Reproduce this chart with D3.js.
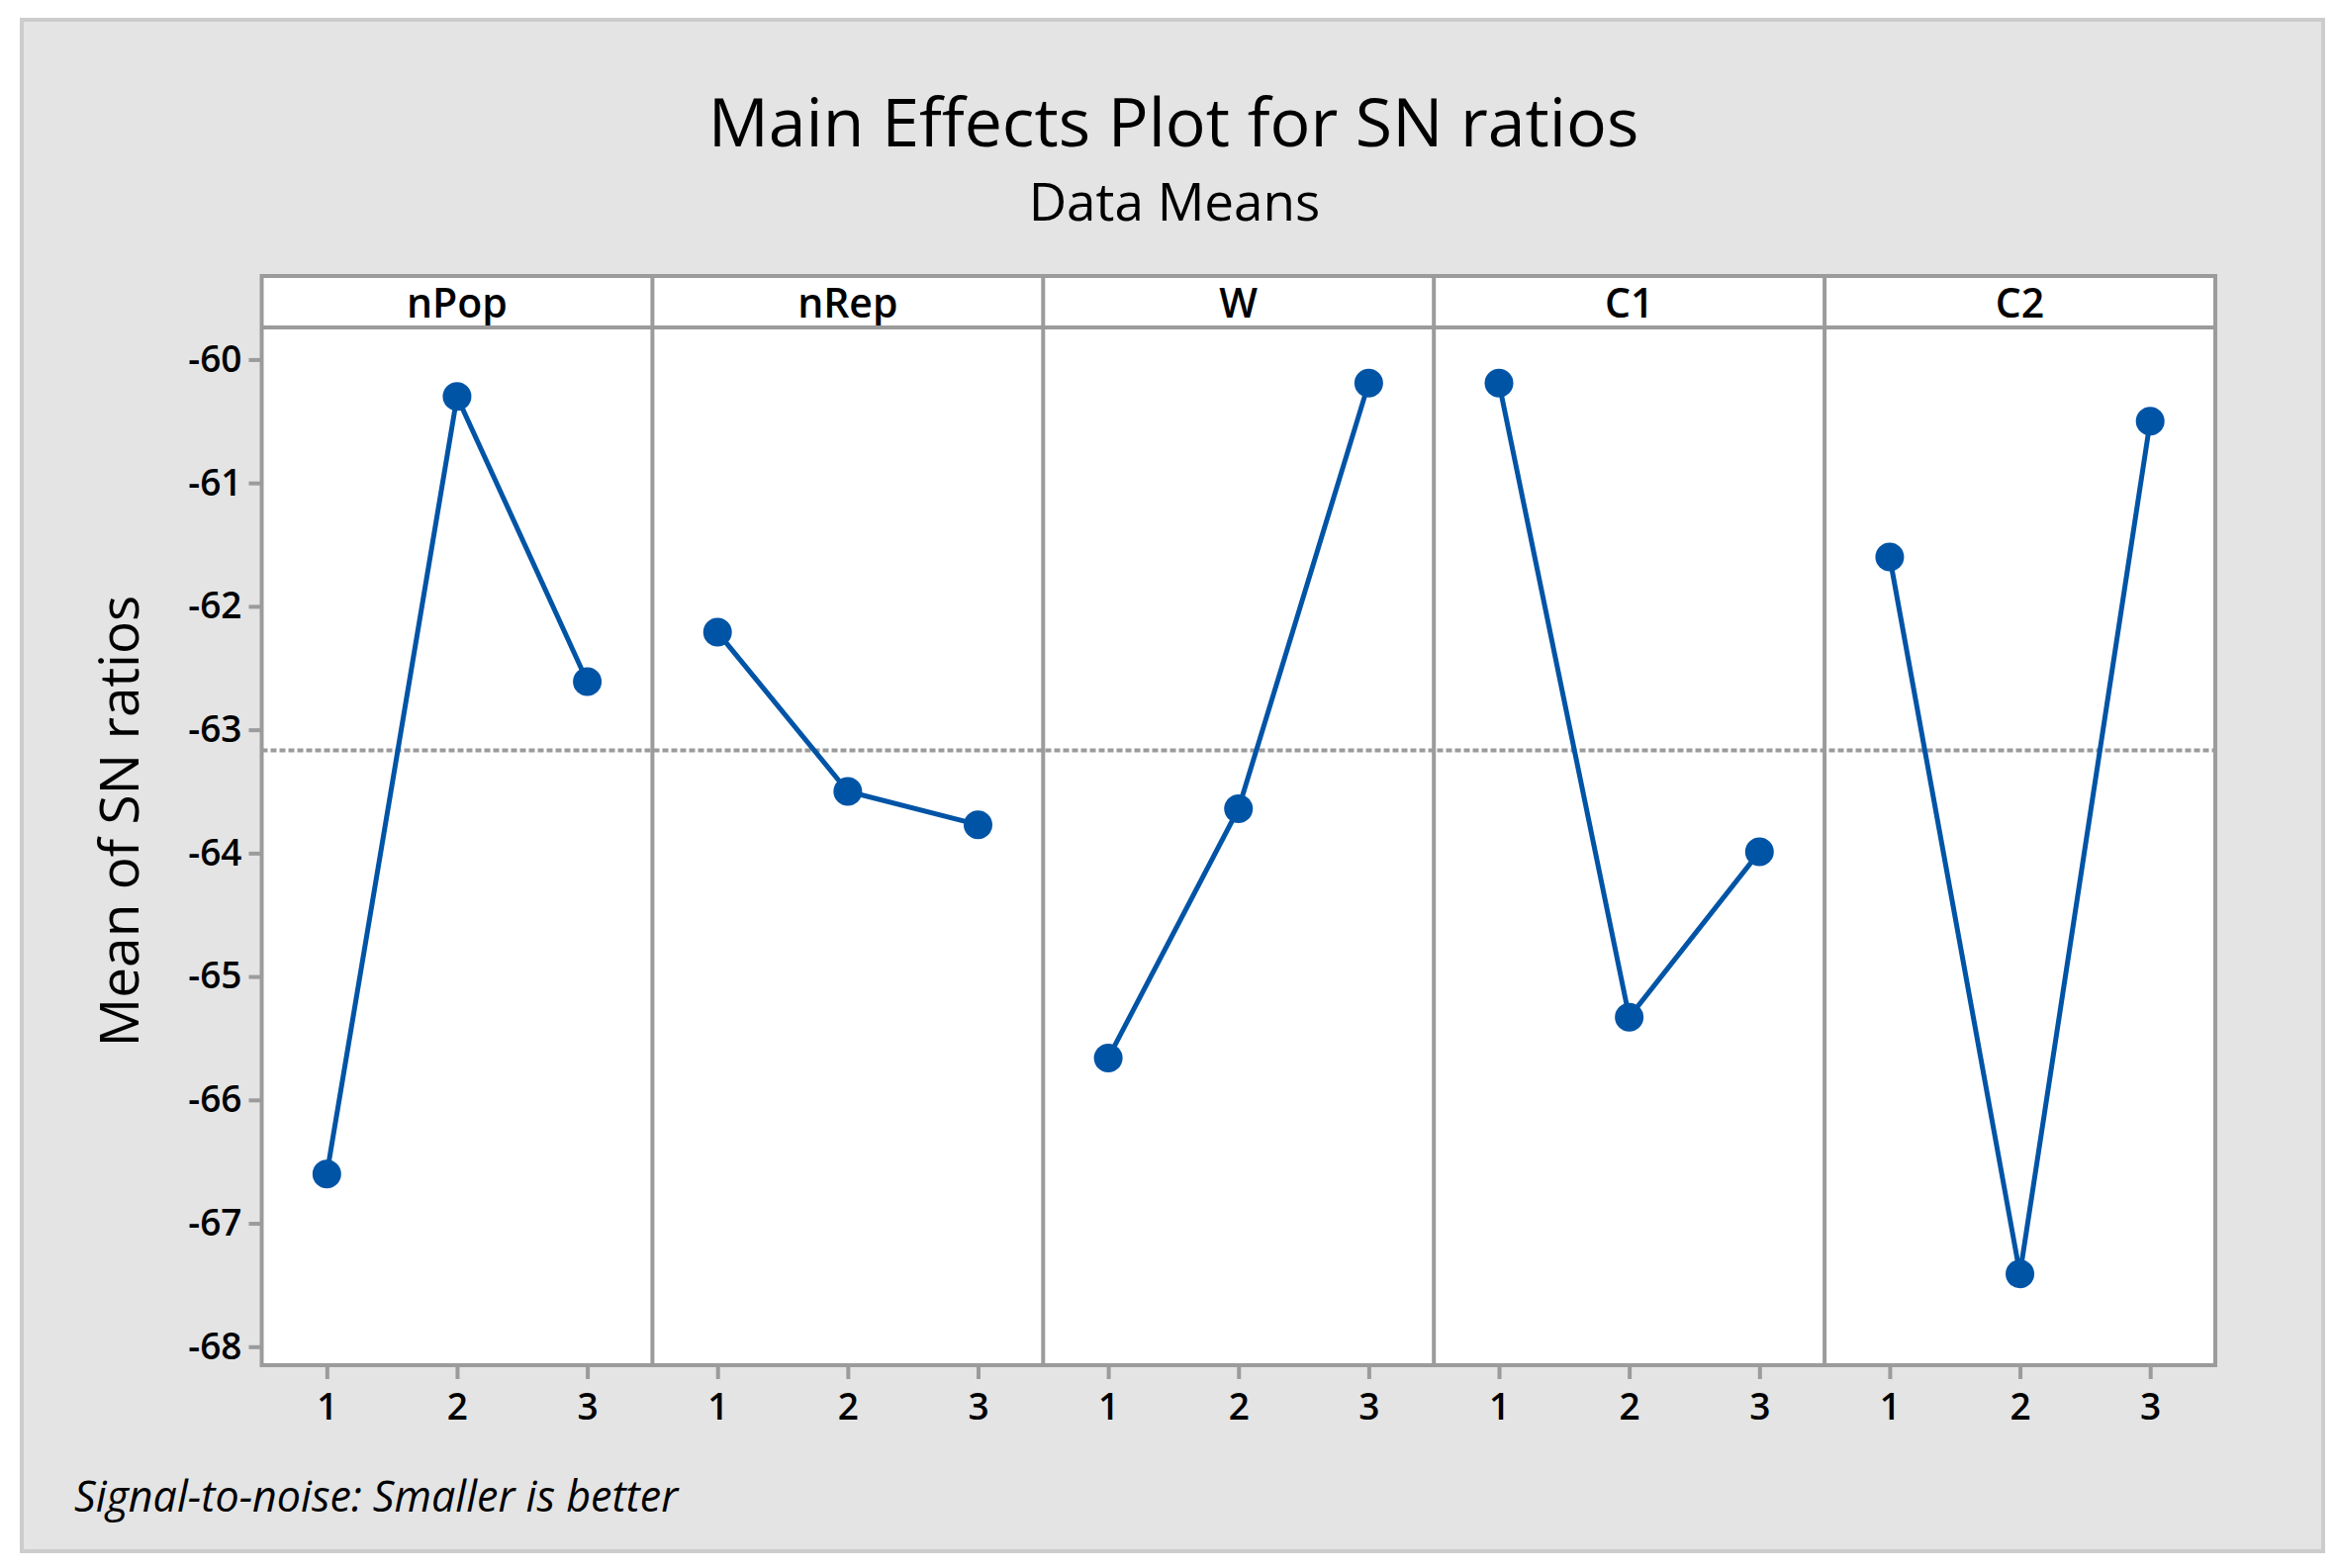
<!DOCTYPE html>
<html>
<head>
<meta charset="utf-8">
<script src="https://cdn.jsdelivr.net/npm/d3@7"></script>
<style>
  body { margin: 0; background: #fff; }
  svg { display: block; font-family: "Open Sans", "Noto Sans", sans-serif; }
</style>
</head>
<body>
<div id="chart"></div>
<script>
// factors and their levels
const factors = ["nPop", "nRep", "W", "C1", "C2"];
const levels = [1, 2, 3];

// mean SN ratio per level
const nPop = [-66.60, -60.30, -62.61];
const nRep = [-62.21, -63.50, -63.77];
const wVals = [-65.66, -63.64, -60.19];
const c1 = [-60.19, -65.33, -63.99];
const c2 = [-61.60, -67.41, -60.50];
const series = [nPop, nRep, wVals, c1, c2];

const yTicks = [-60, -61, -62, -63, -64, -65, -66, -67, -68];
const yLimits = [-68.15, -59.74];

const W = 2362, H = 1585;
const pLeft = 264.5, pRight = 2239, pTop = 279, stripH = 52, pBottom = 1380;
const blue = "#0054a6", gray = "#9b9b9b";

const svg = d3.select("#chart").append("svg")
  .attr("width", W).attr("height", H);

// outer gray box
svg.append("rect")
  .attr("x", 22).attr("y", 20).attr("width", 2326).attr("height", 1548)
  .attr("fill", "#e4e4e4").attr("stroke", "#cccccc").attr("stroke-width", 4);

svg.append("text")
  .attr("x", 1186).attr("y", 148).attr("text-anchor", "middle")
  .style("font-size", "68px").text("Main Effects Plot for SN ratios");
svg.append("text")
  .attr("x", 1187).attr("y", 223).attr("text-anchor", "middle")
  .style("font-size", "53px").text("Data Means");

const px = d3.scaleBand().domain(factors).range([pLeft, pRight]).paddingInner(0);
const y = d3.scaleLinear().domain(yLimits).range([pBottom, pTop + stripH]);

// panel backgrounds
svg.append("rect")
  .attr("x", pLeft).attr("y", pTop).attr("width", pRight - pLeft).attr("height", pBottom - pTop)
  .attr("fill", "#fff");

// grand mean reference line
const grandMean = d3.mean(series.flat());
svg.append("line")
  .attr("x1", pLeft).attr("x2", pRight)
  .attr("y1", y(grandMean)).attr("y2", y(grandMean))
  .attr("stroke", gray).attr("stroke-width", 4).attr("stroke-dasharray", "6,3");

// y axis
const yAxis = svg.append("g")
  .attr("transform", `translate(${pLeft},0)`)
  .call(d3.axisLeft(y).tickValues(yTicks).tickSize(13).tickPadding(7)
    .tickFormat(d => String(d)));
yAxis.select(".domain").remove();
yAxis.selectAll(".tick line").attr("stroke", gray).attr("stroke-width", 4);
yAxis.selectAll(".tick text").style("font-size", "37px").attr("fill", "#000")
  .style("font-family", "'Open Sans', sans-serif").style("font-weight", 600);

factors.forEach((f, i) => {
  const x0 = px(f);
  const x = d3.scaleLinear().domain([0.5, 3.5]).range([x0, x0 + px.bandwidth()]);
  const vals = series[i];
  const pts = levels.map((l, j) => ({ l, v: vals[j] }));

  const g = svg.append("g");

  // x axis
  const xAxis = g.append("g")
    .attr("transform", `translate(0,${pBottom})`)
    .call(d3.axisBottom(x).tickValues(levels).tickSize(14).tickPadding(15)
      .tickFormat(d3.format("d")));
  xAxis.select(".domain").remove();
  xAxis.selectAll(".tick line").attr("stroke", gray).attr("stroke-width", 4);
  xAxis.selectAll(".tick text").style("font-size", "37px").attr("fill", "#000")
    .style("font-family", "'Open Sans', sans-serif").style("font-weight", 600);

  g.append("path")
    .datum(pts)
    .attr("fill", "none").attr("stroke", blue).attr("stroke-width", 5)
    .attr("d", d3.line().x(d => x(d.l)).y(d => y(d.v)));

  g.selectAll("circle").data(pts).join("circle")
    .attr("cx", d => x(d.l)).attr("cy", d => y(d.v)).attr("r", 14.5)
    .attr("fill", blue);

  // strip header
  g.append("text")
    .attr("x", x0 + px.bandwidth() / 2).attr("y", pTop + 42)
    .attr("text-anchor", "middle").style("font-size", "41px")
    .style("font-weight", 600).text(f);

  // divider
  if (i > 0) {
    g.append("line")
      .attr("x1", x0).attr("x2", x0).attr("y1", pTop).attr("y2", pBottom)
      .attr("stroke", gray).attr("stroke-width", 4);
  }
});

// frame and strip line
svg.append("rect")
  .attr("x", pLeft).attr("y", pTop).attr("width", pRight - pLeft).attr("height", pBottom - pTop)
  .attr("fill", "none").attr("stroke", gray).attr("stroke-width", 4);
svg.append("line")
  .attr("x1", pLeft).attr("x2", pRight).attr("y1", pTop + stripH).attr("y2", pTop + stripH)
  .attr("stroke", gray).attr("stroke-width", 4);

svg.append("text")
  .attr("transform", "translate(140,830) rotate(-90)")
  .attr("text-anchor", "middle").style("font-size", "55px").text("Mean of SN ratios");

svg.append("text")
  .attr("x", 75).attr("y", 1528)
  .style("font-size", "43px").style("font-style", "italic")
  .text("Signal-to-noise: Smaller is better");
</script>
</body>
</html>
